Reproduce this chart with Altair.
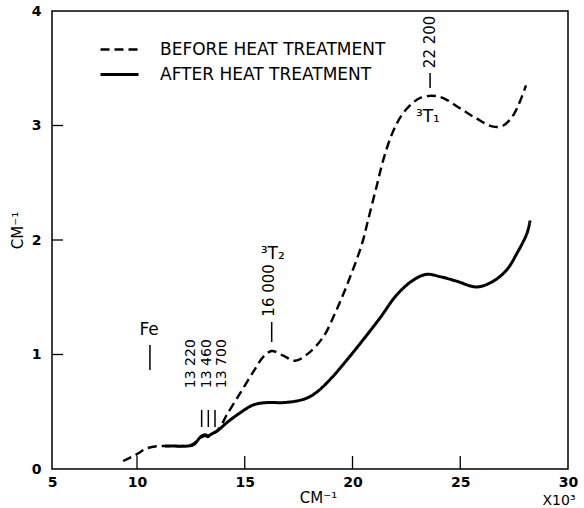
import altair as alt
import pandas as pd

# ---- data ----
series_before = "BEFORE HEAT TREATMENT"
series_after = "AFTER HEAT TREATMENT"

before_x = [9.18, 9.6, 10.0, 10.45, 11.0, 11.4, 12.0, 12.5, 12.77, 12.95, 13.15, 13.3, 13.5,
            13.7, 13.9, 14.16, 14.78, 15.4, 15.86, 16.25, 16.79, 17.33, 17.95, 18.65, 19.19,
            19.73, 20.43, 20.73, 21.12, 21.43, 21.82, 22.28, 22.75, 23.13, 23.67, 24.21, 24.99,
            25.76, 26.53, 27.0, 27.46, 27.77, 28.05]
before_y = [0.07, 0.10, 0.13, 0.18, 0.20, 0.20, 0.20, 0.21, 0.24, 0.27, 0.29, 0.28, 0.31,
            0.33, 0.38, 0.47, 0.66, 0.85, 0.98, 1.03, 0.99, 0.945, 1.01, 1.155, 1.36,
            1.60, 1.96, 2.18, 2.47, 2.70, 2.92, 3.09, 3.19, 3.24, 3.26, 3.24, 3.15,
            3.06, 2.99, 3.00, 3.09, 3.21, 3.35]

after_x = [11.3, 11.8, 12.3, 12.6, 12.77, 12.95, 13.15, 13.3, 13.5, 13.7, 13.9, 14.2, 14.78,
           15.4, 16.02, 16.79, 17.56, 18.0, 18.4, 19.0, 19.73, 20.5, 21.28, 22.05, 22.82, 23.44,
           24.06, 24.84, 25.76, 26.53, 27.16, 27.62, 28.1, 28.24]
after_y = [0.20, 0.20, 0.20, 0.21, 0.24, 0.28, 0.30, 0.29, 0.31, 0.33, 0.36, 0.41, 0.49,
           0.56, 0.58, 0.58, 0.60, 0.63, 0.68, 0.79, 0.95, 1.13, 1.32, 1.52, 1.65, 1.70,
           1.68, 1.64, 1.59, 1.64, 1.74, 1.88, 2.06, 2.17]

x_tick_values = [5, 10, 15, 20, 25, 30]
y_tick_values = [0, 1, 2, 3, 4]
inner_x_ticks = [10, 15, 20, 25]
inner_y_ticks = [1, 2, 3]

# annotation markers (vertical strokes)
marker_x = [10.6, 13.0, 13.31, 13.62, 16.25, 23.6]
marker_y1 = [0.865, 0.367, 0.367, 0.367, 1.109, 3.328]
marker_y2 = [1.083, 0.515, 0.515, 0.515, 1.284, 3.459]

# rotated wavenumber labels
small_rot_text = ["13 220", "13 460", "13 700"]
small_rot_x = [12.49, 13.23, 13.93]
small_rot_y = [0.92, 0.92, 0.92]
big_rot_text = ["16 000", "22 200"]
big_rot_x = [16.13, 23.6]
big_rot_y = [1.56, 3.73]

# plain labels
plain_text = ["Fe", "³T₂", "³T₁"]
plain_x = [10.56, 16.3, 23.5]
plain_y = [1.21, 1.88, 3.07]

FONT = "DejaVu Sans"

curves = pd.concat([
    pd.DataFrame({"x": before_x, "y": before_y, "series": series_before}),
    pd.DataFrame({"x": after_x, "y": after_y, "series": series_after}),
])

xscale = alt.Scale(domain=[5, 10, 30], range=[0, 85, 516], nice=False, zero=False)
yscale = alt.Scale(domain=[0, 4], nice=False, zero=False)

xaxis = alt.Axis(values=x_tick_values, format="d", ticks=False, domain=False, grid=False,
                 labelFont=FONT, labelFontSize=14, labelFontWeight="bold", labelColor="black",
                 labelPadding=6, labelFlush=False, labelOverlap=False,
                 title="CM⁻¹", titleFont=FONT, titleFontSize=15, titleFontWeight="normal",
                 titleColor="black", titleX=266, titleY=28, titleBaseline="middle", titleAlign="center")
yaxis = alt.Axis(values=y_tick_values, format="d", ticks=False, domain=False, grid=False,
                 labelFont=FONT, labelFontSize=14, labelFontWeight="bold", labelColor="black",
                 labelPadding=11, labelFlush=False, labelOverlap=False,
                 title="CM⁻¹", titleFont=FONT, titleFontSize=15, titleFontWeight="normal",
                 titleColor="black", titleX=-35, titleY=219, titleAngle=270,
                 titleBaseline="middle", titleAlign="center")

lines = alt.Chart(curves).mark_line(interpolate="catmull-rom", color="black").encode(
    x=alt.X("x:Q", scale=xscale, axis=xaxis),
    y=alt.Y("y:Q", scale=yscale, axis=yaxis),
    strokeDash=alt.StrokeDash(
        "series:N",
        scale=alt.Scale(domain=[series_before, series_after], range=[[9, 5], [1, 0]]),
        legend=alt.Legend(title=None, orient="none", legendX=59, legendY=30,
                          symbolType="M-3.8,0H3.8", symbolSize=100, symbolStrokeWidth=2.6,
                          symbolStrokeColor="black", symbolFillColor="transparent",
                          labelFont=FONT, labelFontSize=17, labelColor="black", labelLimit=0,
                          labelOffset=32, rowPadding=7),
    ),
    strokeWidth=alt.StrokeWidth(
        "series:N",
        scale=alt.Scale(domain=[series_before, series_after], range=[2.4, 3.0]),
        legend=None,
    ),
    detail="series:N",
)

xt = alt.Chart(pd.DataFrame({"v": inner_x_ticks})).mark_rule(color="black", strokeWidth=1.3).encode(
    x=alt.X("v:Q", scale=xscale), y=alt.value(458), y2=alt.value(445))
yt = alt.Chart(pd.DataFrame({"v": inner_y_ticks})).mark_rule(color="black", strokeWidth=1.3).encode(
    y=alt.Y("v:Q", scale=yscale), x=alt.value(0), x2=alt.value(11))

markers = alt.Chart(pd.DataFrame({"x": marker_x, "y1": marker_y1, "y2": marker_y2})).mark_rule(
    color="black", strokeWidth=1.5).encode(
    x=alt.X("x:Q", scale=xscale), y=alt.Y("y1:Q", scale=yscale), y2="y2:Q")

small_rot = alt.Chart(pd.DataFrame({"x": small_rot_x, "y": small_rot_y, "t": small_rot_text})).mark_text(
    angle=270, align="center", baseline="middle", font=FONT, fontSize=14, color="black").encode(
    x=alt.X("x:Q", scale=xscale), y=alt.Y("y:Q", scale=yscale), text="t:N")
big_rot = alt.Chart(pd.DataFrame({"x": big_rot_x, "y": big_rot_y, "t": big_rot_text})).mark_text(
    angle=270, align="center", baseline="middle", font=FONT, fontSize=15, color="black").encode(
    x=alt.X("x:Q", scale=xscale), y=alt.Y("y:Q", scale=yscale), text="t:N")
plain = alt.Chart(pd.DataFrame({"x": plain_x, "y": plain_y, "t": plain_text})).mark_text(
    align="center", baseline="middle", font=FONT, fontSize=17, color="black").encode(
    x=alt.X("x:Q", scale=xscale), y=alt.Y("y:Q", scale=yscale), text="t:N")

multiplier = alt.Chart(pd.DataFrame({"t": ["X10³"]})).mark_text(
    align="center", baseline="middle", font=FONT, fontSize=14, color="black", dy=32, dx=-9).encode(
    x=alt.datum(30, scale=xscale), y=alt.datum(0, scale=yscale), text="t:N")

chart = alt.layer(lines, xt, yt, markers, small_rot, big_rot, plain, multiplier).properties(
    width=516, height=458,
    padding={"left": 52, "top": 11, "right": 16, "bottom": 39},
    autosize=alt.AutoSizeParams(type="none"),
    background="white",
).configure_view(stroke="black", strokeWidth=1.5)

chart.save("out.html", embed_options={"renderer": "svg", "actions": False})
